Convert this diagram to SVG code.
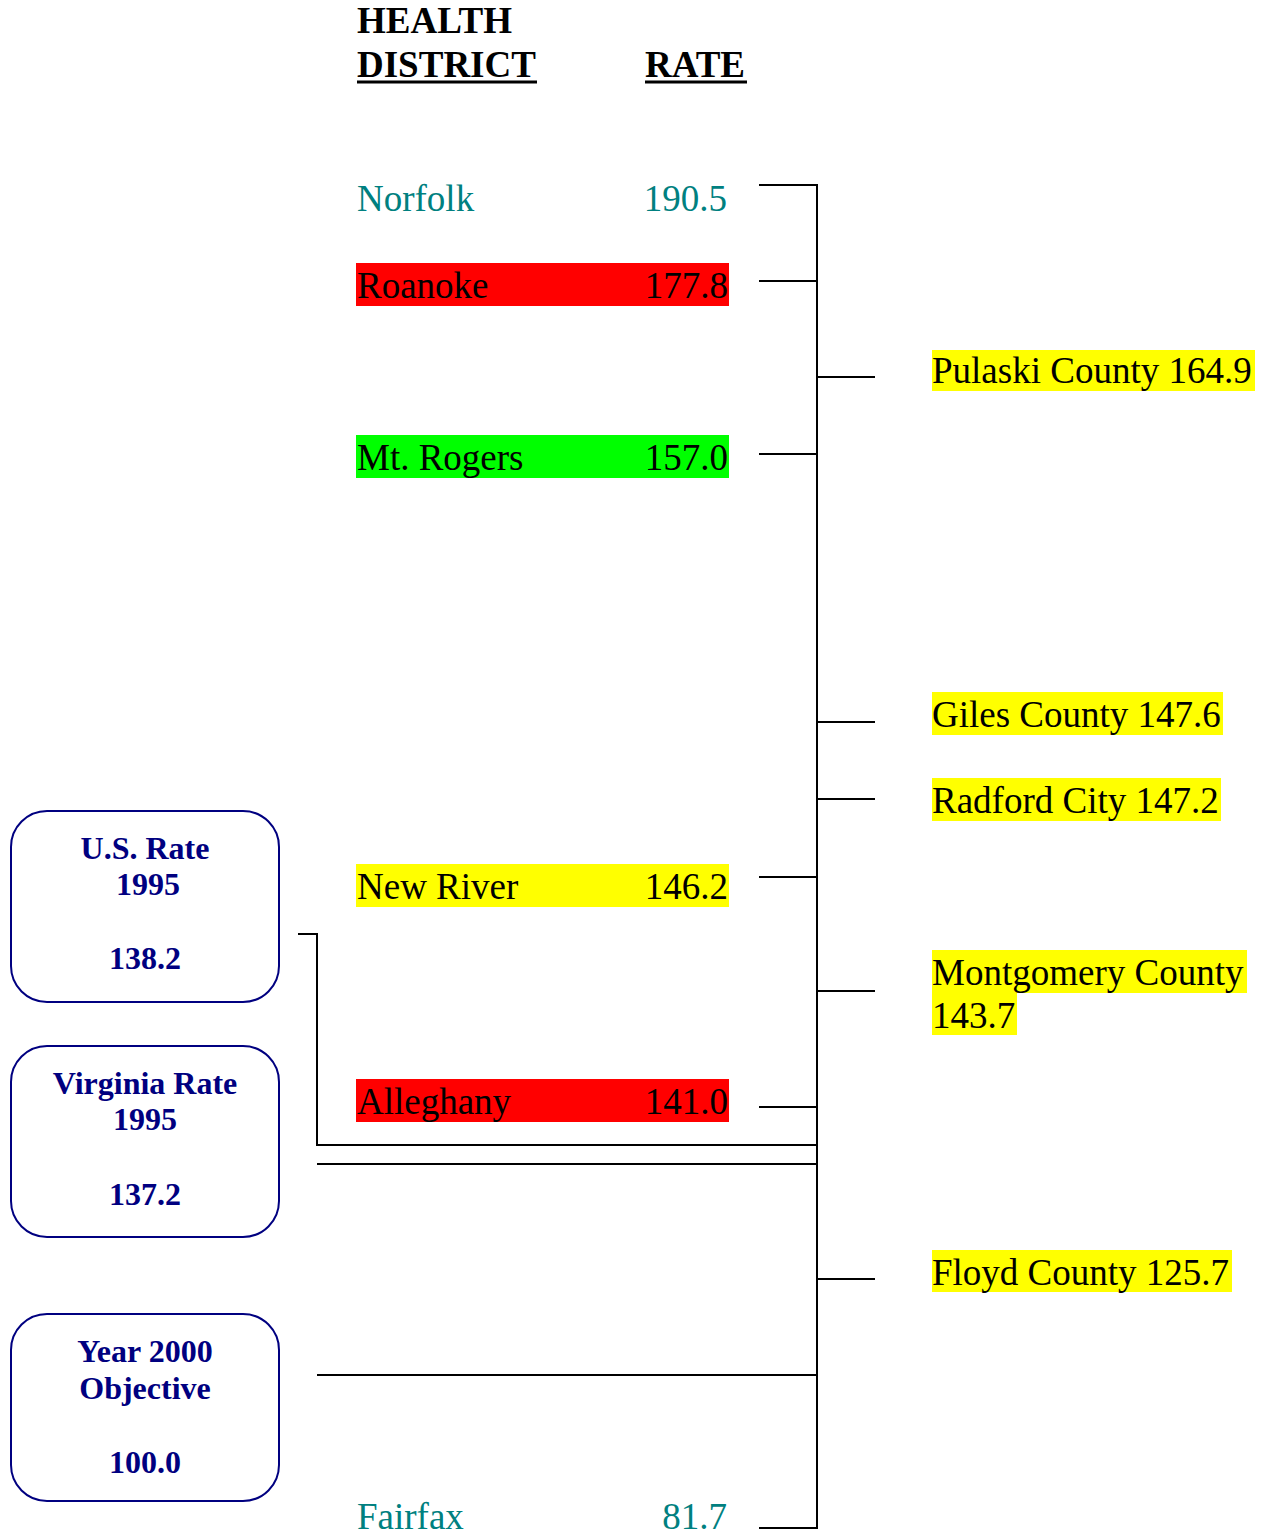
<svg xmlns="http://www.w3.org/2000/svg" width="1267" height="1534" viewBox="0 0 1267 1534">
<style>
text{font-family:"Liberation Serif","Times New Roman",serif}
.hd{font-size:37px;font-weight:bold;fill:#000}
.d{font-size:37px;fill:#000}
.teal{fill:#008080}
.num{text-anchor:end}
.bx{fill:#fff;stroke:#000080;stroke-width:2}
.bt{font-size:32px;font-weight:bold;fill:#000080;text-anchor:middle}
.ln{stroke:#000;stroke-width:2;fill:none}
</style>
<rect width="1267" height="1534" fill="#fff"/>
<g id="header">
<text class="hd" x="357" y="33">HEALTH</text>
<text class="hd" x="357" y="77">DISTRICT</text>
<text class="hd" x="645" y="77">RATE</text>
<line x1="357" y1="82" x2="537" y2="82" stroke="#000" stroke-width="3"/>
<line x1="645" y1="82" x2="747" y2="82" stroke="#000" stroke-width="3"/>
</g>
<g id="norfolk">
<text class="d teal" x="357" y="211">Norfolk</text>
<text class="d teal num" x="727" y="211">190.5</text>
</g>
<g id="roanoke">
<rect x="356" y="263" width="373" height="43" fill="#ff0000"/>
<text class="d" x="357" y="298">Roanoke</text>
<text class="d num" x="728" y="298">177.8</text>
</g>
<g id="mtrogers">
<rect x="356" y="435" width="373" height="43" fill="#00ff00"/>
<text class="d" x="357" y="470">Mt. Rogers</text>
<text class="d num" x="728" y="470">157.0</text>
</g>
<g id="newriver">
<rect x="356" y="864" width="373" height="43" fill="#ffff00"/>
<text class="d" x="357" y="899">New River</text>
<text class="d num" x="728" y="899">146.2</text>
</g>
<g id="alleghany">
<rect x="356" y="1079" width="373" height="43" fill="#ff0000"/>
<text class="d" x="357" y="1114">Alleghany</text>
<text class="d num" x="728" y="1114">141.0</text>
</g>
<g id="fairfax">
<text class="d teal" x="357" y="1529">Fairfax</text>
<text class="d teal num" x="727" y="1529">81.7</text>
</g>
<g id="pulaski">
<rect x="932" y="350" width="323" height="41" fill="#ffff00"/>
<text class="d" x="932" y="383">Pulaski County 164.9</text>
</g>
<g id="giles">
<rect x="932" y="692" width="291" height="43" fill="#ffff00"/>
<text class="d" x="932" y="727">Giles County 147.6</text>
</g>
<g id="radford">
<rect x="932" y="778" width="289" height="43" fill="#ffff00"/>
<text class="d" x="932" y="813">Radford City 147.2</text>
</g>
<g id="montgomery">
<rect x="932" y="950" width="315" height="43" fill="#ffff00"/>
<rect x="932" y="992" width="85" height="43" fill="#ffff00"/>
<text class="d" x="932" y="985">Montgomery County</text>
<text class="d" x="932" y="1028">143.7</text>
</g>
<g id="floyd">
<rect x="932" y="1250" width="300" height="42" fill="#ffff00"/>
<text class="d" x="932" y="1285">Floyd County 125.7</text>
</g>
<g id="usrate">
<rect class="bx" x="11" y="811" width="268" height="191" rx="36"/>
<text class="bt" x="145" y="859">U.S. Rate</text>
<text class="bt" x="148" y="895">1995</text>
<text class="bt" x="145" y="969">138.2</text>
</g>
<g id="varate">
<rect class="bx" x="11" y="1046" width="268" height="191" rx="36"/>
<text class="bt" x="145" y="1094">Virginia Rate</text>
<text class="bt" x="145" y="1130">1995</text>
<text class="bt" x="145" y="1205">137.2</text>
</g>
<g id="objective">
<rect class="bx" x="11" y="1314" width="268" height="187" rx="36"/>
<text class="bt" x="145" y="1362">Year 2000</text>
<text class="bt" x="145" y="1399">Objective</text>
<text class="bt" x="145" y="1473">100.0</text>
</g>
<g id="connectors">
<line class="ln" x1="817" y1="185" x2="817" y2="1529"/>
<line class="ln" x1="759" y1="185" x2="818" y2="185"/>
<line class="ln" x1="759" y1="281" x2="817" y2="281"/>
<line class="ln" x1="759" y1="454" x2="817" y2="454"/>
<line class="ln" x1="759" y1="877" x2="817" y2="877"/>
<line class="ln" x1="759" y1="1107" x2="817" y2="1107"/>
<line class="ln" x1="759" y1="1528" x2="818" y2="1528"/>
<line class="ln" x1="817" y1="377" x2="875" y2="377"/>
<line class="ln" x1="817" y1="722" x2="875" y2="722"/>
<line class="ln" x1="817" y1="799" x2="875" y2="799"/>
<line class="ln" x1="817" y1="991" x2="875" y2="991"/>
<line class="ln" x1="817" y1="1279" x2="875" y2="1279"/>
<polyline class="ln" points="298,934 317,934 317,1145 817,1145"/>
<line class="ln" x1="317" y1="1164" x2="817" y2="1164"/>
<line class="ln" x1="317" y1="1375" x2="817" y2="1375"/>
</g>
</svg>
